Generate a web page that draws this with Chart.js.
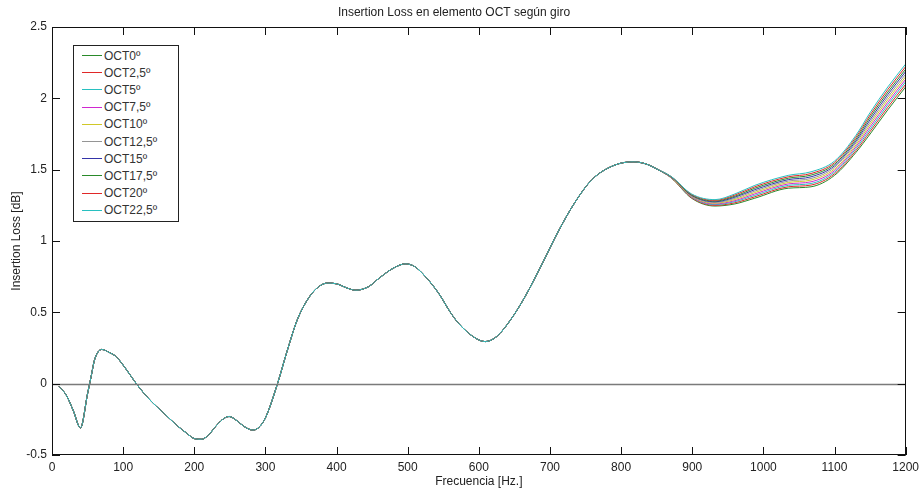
<!DOCTYPE html>
<html>
<head>
<meta charset="utf-8">
<script src="https://cdn.jsdelivr.net/npm/chart.js@4.4.0/dist/chart.umd.min.js"></script>
<style>
  body { margin: 0; background: #fff; }
  #wrap { position: relative; width: 924px; height: 494px; }
  #legend {
    position: absolute; left: 73px; top: 45px; width: 104px;
    border: 1px solid #222; background: #fff; padding: 1px 0 2px 0;
    font: 12px 'Liberation Sans Narrow', 'Liberation Sans', Arial, sans-serif; color: #333;
  }
  .row { height: 17.2px; display: flex; align-items: center; }
  .swatch { display: inline-block; width: 20px; height: 1px; margin: 0 2px 0 8px; }
</style>
</head>
<body>
<div id="wrap">
  <canvas id="chart" width="924" height="494"></canvas>
  <div id="legend"></div>
</div>
<script>
// shared part of the curve (all rotations overlap up to ~850 Hz)
const freqBase = [10, 20, 30, 40, 50, 55, 60, 70, 80, 90, 100, 110, 120, 135, 147, 160, 175, 190, 200, 210,
  220, 230, 240, 249, 260, 270, 282, 290, 300, 317, 330, 345, 362, 375, 387, 400, 415, 427, 445, 460,
  480, 497, 510, 525, 544, 560, 572, 595, 609, 625, 645, 665, 690, 712, 735, 759, 790, 817, 835, 852];
const ilBase = [-0.02, -0.08, -0.19, -0.31, -0.07, 0.05, 0.17, 0.24, 0.22, 0.19, 0.13, 0.06, -0.01, -0.10, -0.16, -0.22, -0.29, -0.35, -0.385, -0.39,
  -0.36, -0.30, -0.25, -0.23, -0.26, -0.30, -0.325, -0.31, -0.24, 0.0, 0.22, 0.45, 0.61, 0.68, 0.705, 0.70, 0.67, 0.655, 0.68, 0.74,
  0.81, 0.84, 0.82, 0.75, 0.63, 0.50, 0.42, 0.32, 0.295, 0.33, 0.45, 0.61, 0.85, 1.07, 1.27, 1.43, 1.53, 1.555, 1.54, 1.50];

// high-frequency part where the rotations separate
const freqTail = [871, 899, 932, 960, 988, 1035, 1067, 1100, 1130, 1150, 1175, 1200];
const oct0   = [1.440, 1.300, 1.245, 1.260, 1.300, 1.370, 1.380, 1.460, 1.620, 1.750, 1.920, 2.080];
const oct2_5 = [1.441, 1.303, 1.250, 1.268, 1.310, 1.380, 1.392, 1.471, 1.633, 1.767, 1.938, 2.098];
const oct5   = [1.442, 1.307, 1.255, 1.276, 1.320, 1.390, 1.403, 1.482, 1.647, 1.783, 1.956, 2.116];
const oct7_5 = [1.443, 1.310, 1.260, 1.283, 1.330, 1.400, 1.415, 1.493, 1.660, 1.800, 1.973, 2.133];
const oct10  = [1.444, 1.313, 1.265, 1.291, 1.340, 1.410, 1.427, 1.504, 1.673, 1.817, 1.991, 2.151];
const oct12_5 = [1.446, 1.317, 1.270, 1.299, 1.350, 1.420, 1.438, 1.516, 1.687, 1.833, 2.009, 2.169];
const oct15  = [1.447, 1.320, 1.275, 1.307, 1.360, 1.430, 1.450, 1.527, 1.700, 1.850, 2.027, 2.187];
const oct17_5 = [1.448, 1.323, 1.280, 1.314, 1.370, 1.440, 1.462, 1.538, 1.713, 1.867, 2.044, 2.204];
const oct20  = [1.449, 1.327, 1.285, 1.322, 1.380, 1.450, 1.473, 1.549, 1.727, 1.883, 2.062, 2.222];
const oct22_5 = [1.450, 1.330, 1.290, 1.330, 1.390, 1.460, 1.485, 1.560, 1.740, 1.900, 2.080, 2.240];

const labels = ['OCT0º', 'OCT2,5º', 'OCT5º', 'OCT7,5º', 'OCT10º', 'OCT12,5º', 'OCT15º', 'OCT17,5º', 'OCT20º', 'OCT22,5º'];
const tails = [oct0, oct2_5, oct5, oct7_5, oct10, oct12_5, oct15, oct17_5, oct20, oct22_5];
const colors = ['#2a8a2a', '#e02828', '#28c0c0', '#d028d0', '#d0c828', '#959595', '#3434a8', '#2a8a2a', '#e02828', '#28c0c0'];

const FONT = "'Liberation Sans Narrow', 'Liberation Sans', Arial, sans-serif";

function points(tail) {
  const pts = freqBase.map((f, i) => ({ x: f, y: ilBase[i] }));
  freqTail.forEach((f, i) => pts.push({ x: f, y: tail[i] }));
  return pts;
}

// frame box, inward ticks and zero line, like the matlab axes
const frame = {
  id: 'frame',
  afterDatasetsDraw(chart) {
    const { ctx, chartArea: a, scales: { x, y } } = chart;
    ctx.save();
    const y0 = Math.round(y.getPixelForValue(0)) + 0.5;
    ctx.strokeStyle = '#7a7a7a';
    ctx.lineWidth = 1.5;
    ctx.beginPath();
    ctx.moveTo(a.left, y0);
    ctx.lineTo(a.right, y0);
    ctx.stroke();

    ctx.strokeStyle = '#111';
    ctx.lineWidth = 1;
    ctx.strokeRect(Math.round(a.left) + 0.5, Math.round(a.top) + 0.5, Math.round(a.width) - 1, Math.round(a.height) - 1);
    ctx.beginPath();
    x.ticks.forEach(t => {
      const px = Math.round(x.getPixelForValue(t.value)) + 0.5;
      ctx.moveTo(px, a.bottom); ctx.lineTo(px, a.bottom - 8);
      ctx.moveTo(px, a.top); ctx.lineTo(px, a.top + 8);
    });
    y.ticks.forEach(t => {
      const py = Math.round(y.getPixelForValue(t.value)) + 0.5;
      ctx.moveTo(a.left, py); ctx.lineTo(a.left + 8, py);
      ctx.moveTo(a.right, py); ctx.lineTo(a.right - 8, py);
    });
    ctx.stroke();
    ctx.restore();
  }
};

const chart = new Chart(document.getElementById('chart').getContext('2d'), {
  type: 'line',
  data: {
    datasets: labels.map((lab, i) => ({
      label: lab,
      data: points(tails[i]),
      borderColor: colors[i],
      borderWidth: 1,
      pointRadius: 0,
      fill: false,
      order: labels.length - i, // later series drawn on top, as in matlab
      cubicInterpolationMode: 'monotone'
    }))
  },
  options: {
    responsive: false,
    animation: false,
    devicePixelRatio: 1,
    layout: { padding: { left: 0, right: 16, top: 0, bottom: 0 } },
    plugins: {
      legend: { display: false },
      tooltip: { enabled: false },
      title: {
        display: true,
        text: 'Insertion Loss en elemento OCT según giro',
        color: '#222',
        font: { family: FONT, size: 12, weight: 'normal' },
        padding: { top: 5, bottom: 7.6 }
      }
    },
    scales: {
      x: {
        type: 'linear',
        min: 0,
        max: 1200,
        grid: { display: false, drawTicks: false },
        border: { display: false },
        ticks: { stepSize: 100, color: '#222', padding: 5, font: { family: FONT, size: 12 }, callback: v => String(v) },
        title: { display: true, text: 'Frecuencia [Hz.]', color: '#222', font: { family: FONT, size: 12 }, padding: { top: 0, bottom: 5 } },
        afterFit(scale) { scale.height = 39; }
      },
      y: {
        min: -0.5,
        max: 2.5,
        grid: { display: false, drawTicks: false },
        border: { display: false },
        ticks: { stepSize: 0.5, color: '#222', padding: 5, font: { family: FONT, size: 12 }, callback: v => String(v) },
        title: { display: true, text: 'Insertion Loss [dB]', color: '#222', font: { family: FONT, size: 12 }, padding: { top: 9, bottom: 0 } },
        afterFit(scale) { scale.width = 52; }
      }
    }
  },
  plugins: [frame]
});

// legend box built from the datasets
const legend = document.getElementById('legend');
chart.data.datasets.forEach(ds => {
  const row = document.createElement('div');
  row.className = 'row';
  const sw = document.createElement('span');
  sw.className = 'swatch';
  sw.style.background = ds.borderColor;
  const tx = document.createElement('span');
  tx.textContent = ds.label;
  row.appendChild(sw);
  row.appendChild(tx);
  legend.appendChild(row);
});
</script>
</body>
</html>
